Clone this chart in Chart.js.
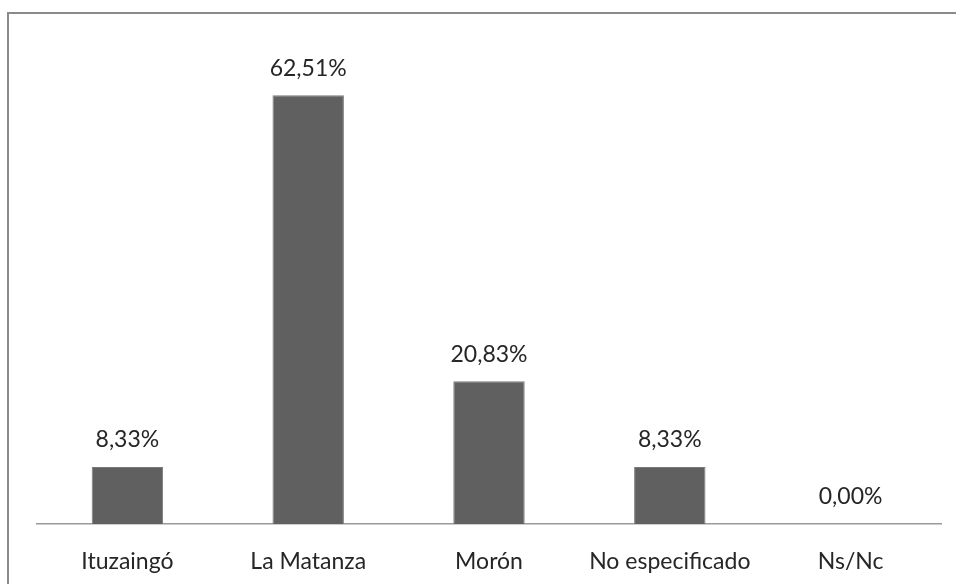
<!DOCTYPE html>
<html>
<head>
<meta charset="utf-8">
<script src="https://cdn.jsdelivr.net/npm/chart.js@4.4.1/dist/chart.umd.min.js"></script>
<style>
  html, body { margin: 0; padding: 0; background: #fff; }
  #wrap { position: relative; width: 956px; height: 584px; overflow: hidden; }
  #marco {
    position: absolute; left: 7px; top: 12px; width: 1000px; height: 700px;
    border-top: 2px solid #8a8a8a; border-left: 2px solid #8a8a8a;
  }
  canvas { position: absolute; left: 0; top: 0; }
</style>
</head>
<body>
<div id="wrap">
  <div id="marco"></div>
  <canvas id="grafico-partidos" width="956" height="584"></canvas>
</div>
<script>
const partidos = ['Ituzaingó', 'La Matanza', 'Morón', 'No especificado', 'Ns/Nc'];
const porcentajes = [8.33, 62.51, 20.83, 8.33, 0.0];
const maxEje = 70;

const fuente = 'Lato, "Open Sans", sans-serif';

// etiquetas de valor encima de cada barra (formato con coma decimal)
const etiquetasValor = {
  id: 'etiquetasValor',
  afterDatasetsDraw(chart) {
    const ctx = chart.ctx;
    const meta = chart.getDatasetMeta(0);
    ctx.save();
    ctx.font = '23px ' + fuente;
    ctx.fillStyle = '#262626';
    ctx.textAlign = 'center';
    ctx.textBaseline = 'middle';
    meta.data.forEach((barra, i) => {
      const txt = porcentajes[i].toFixed(2).replace('.', ',') + '%';
      ctx.fillText(txt, barra.x, barra.y - 27);
    });
    ctx.restore();
  },
};

const grafico = document.getElementById('grafico-partidos');
if (grafico) {
  new Chart(grafico, {
    type: 'bar',
    data: {
      labels: partidos,
      datasets: [
        {
          data: porcentajes,
          backgroundColor: '#606060',
          borderColor: '#7a7a7a',
          borderWidth: 1,
          categoryPercentage: 1,
          barPercentage: 0.395,
        },
      ],
    },
    options: {
      responsive: false,
      animation: false,
      layout: {
        padding: { left: 37, right: 15, top: 44, bottom: 0 },
      },
      plugins: {
        legend: { display: false },
        tooltip: { enabled: false },
      },
      scales: {
        y: {
          display: false,
          min: 0,
          max: maxEje,
        },
        x: {
          grid: { display: false },
          border: { display: true, color: '#9a9a9a', width: 1.5 },
          ticks: {
            color: '#262626',
            padding: 16,
            maxRotation: 0,
            font: { family: fuente, size: 23 },
          },
          // alto fijo del eje para que la base quede en su sitio
          afterFit(scale) {
            scale.height = 60;
          },
        },
      },
    },
    plugins: [etiquetasValor],
  });
}
</script>
</body>
</html>
